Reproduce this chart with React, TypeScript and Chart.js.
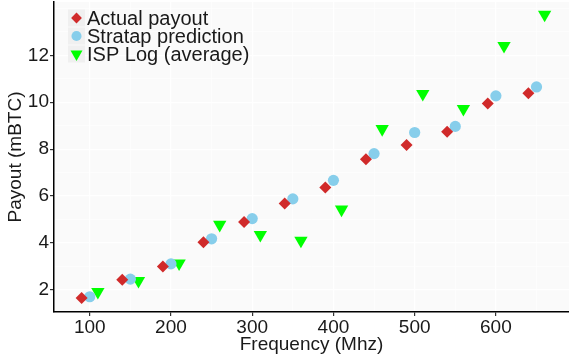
import React, { useEffect, useRef } from 'react';
import { Chart, registerables } from 'chart.js';
import { drawPoint } from 'chart.js/helpers';

Chart.register(...registerables);

// ---- Data ----
const seriesLabels = ['Actual payout', 'Stratap prediction', 'ISP Log (average)'];

const actualFreq = [90, 140, 190, 240, 290, 340, 390, 440, 490, 540, 590, 640];
const actualPayout = [1.66, 2.43, 3.0, 4.03, 4.9, 5.68, 6.36, 7.57, 8.18, 8.74, 9.94, 10.38];

const stratapFreq = [100, 150, 200, 250, 300, 350, 400, 450, 500, 550, 600, 650];
const stratapPayout = [1.71, 2.46, 3.11, 4.18, 5.04, 5.88, 6.67, 7.81, 8.71, 8.97, 10.27, 10.65];

const ispFreq = [110, 160, 210, 260, 310, 360, 410, 460, 510, 560, 610, 660];
const ispPayout = [1.92, 2.39, 3.13, 4.78, 4.35, 4.1, 5.43, 8.86, 10.36, 9.72, 12.4, 13.73];

const xTickLabels = [100, 200, 300, 400, 500, 600];
const yTickLabels = [2, 4, 6, 8, 10, 12];

const FONT = "'Liberation Sans', Arial, Helvetica, sans-serif";
const TEXT = '#1a1a1a';

const toPoints = (xs: number[], ys: number[]) => xs.map((x, i) => ({ x, y: ys[i] }));

const panelPlugin = {
  id: 'panel',
  beforeDraw(chart: any) {
    const { ctx, chartArea } = chart;
    ctx.save();
    ctx.fillStyle = '#FAFAFA';
    ctx.fillRect(chartArea.left, chartArea.top, chartArea.right - chartArea.left, chartArea.bottom - chartArea.top);
    ctx.restore();
  },
};

// legend drawn inside the panel, top-left (ggplot style keys)
const insideLegend = {
  id: 'insideLegend',
  beforeDatasetsDraw(chart: any) {
    const { ctx, chartArea } = chart;
    const keyCx = chartArea.left + 22.5;
    const textX = chartArea.left + 33;
    const firstRow = chartArea.top + 16;
    const rowStep = 18;
    ctx.save();
    chart.data.datasets.forEach((ds: any, i: number) => {
      const cy = firstRow + i * rowStep;
      ctx.fillStyle = '#F0F0F0';
      ctx.fillRect(keyCx - 8.5, cy - 8.5, 17, 17);
      ctx.fillStyle = ds.backgroundColor;
      ctx.strokeStyle = ds.borderColor;
      drawPoint(
        ctx,
        {
          pointStyle: ds.pointStyle,
          rotation: ds.pointRotation || 0,
          radius: ds.pointRadius * 0.9,
          borderWidth: 0,
        } as any,
        keyCx,
        cy
      );
      ctx.fillStyle = TEXT;
      ctx.font = `20px ${FONT}`;
      ctx.textAlign = 'left';
      ctx.textBaseline = 'middle';
      ctx.fillText(ds.label, textX, cy + 1);
    });
    ctx.restore();
  },
};

export default function App() {
  const ref = useRef<HTMLCanvasElement | null>(null);

  useEffect(() => {
    if (!ref.current) return;
    Chart.defaults.font.family = FONT;
    const chart = new Chart(ref.current, {
      type: 'scatter',
      data: {
        datasets: [
          {
            label: seriesLabels[0],
            data: toPoints(actualFreq, actualPayout),
            pointStyle: 'rectRot',
            pointRadius: 6,
            pointBorderWidth: 0,
            backgroundColor: '#D02A2A',
            borderColor: '#D02A2A',
            borderWidth: 0,
          },
          {
            label: seriesLabels[1],
            data: toPoints(stratapFreq, stratapPayout),
            pointStyle: 'circle',
            pointRadius: 5.6,
            pointBorderWidth: 0,
            backgroundColor: '#87CEEB',
            borderColor: '#87CEEB',
            borderWidth: 0,
          },
          {
            label: seriesLabels[2],
            data: toPoints(ispFreq, ispPayout),
            pointStyle: 'triangle',
            pointRotation: 180,
            pointRadius: 7.7,
            pointBorderWidth: 0,
            backgroundColor: '#00FF00',
            borderColor: '#00FF00',
            borderWidth: 0,
          },
        ],
      },
      options: {
        animation: false,
        responsive: false,
        layout: { autoPadding: false, padding: { top: 2, right: 0, bottom: 0, left: 0 } },
        plugins: {
          tooltip: { enabled: false },
          legend: { display: false },
        },
        scales: {
          x: {
            type: 'linear',
            position: 'bottom',
            min: 56,
            max: 690,
            afterFit: (s: any) => {
              s.height = 49;
              s.paddingLeft = 0;
              s.paddingRight = 0;
            },
            ticks: {
              stepSize: 50,
              includeBounds: false,
              autoSkip: false,
              maxRotation: 0,
              padding: 0,
              color: TEXT,
              font: { size: 19, family: FONT },
              callback: (v: any) => (xTickLabels.includes(Number(v)) ? String(v) : ''),
            },
            grid: {
              color: '#FFFFFF',
              lineWidth: (c: any) => (xTickLabels.includes(c.tick?.value) ? 1.2 : 0.6),
              tickColor: (c: any) => (xTickLabels.includes(c.tick?.value) ? '#333333' : 'rgba(0,0,0,0)'),
              tickLength: 4,
            },
            border: { display: true, color: '#000000', width: 1.5 },
            title: {
              display: true,
              text: 'Frequency (Mhz)',
              color: TEXT,
              font: { size: 19, family: FONT },
              padding: { top: 0, bottom: 5 },
            },
          },
          y: {
            type: 'linear',
            min: 1.06,
            max: 14.27,
            afterFit: (s: any) => {
              s.width = 54;
              s.paddingTop = 0;
              s.paddingBottom = 0;
            },
            ticks: {
              stepSize: 1,
              includeBounds: false,
              autoSkip: false,
              padding: 1,
              color: TEXT,
              font: { size: 19, family: FONT },
              callback: (v: any) => (yTickLabels.includes(Number(v)) ? String(v) : ''),
            },
            grid: {
              color: '#FFFFFF',
              lineWidth: (c: any) => (yTickLabels.includes(c.tick?.value) ? 1.2 : 0.6),
              tickColor: (c: any) => (yTickLabels.includes(c.tick?.value) ? '#333333' : 'rgba(0,0,0,0)'),
              tickLength: 4,
            },
            border: { display: true, color: '#000000', width: 1.5 },
            title: {
              display: true,
              text: 'Payout (mBTC)',
              color: TEXT,
              font: { size: 19, family: FONT },
              padding: { top: 4, bottom: 0 },
            },
          },
        },
      },
      plugins: [panelPlugin, insideLegend],
    } as any);
    return () => chart.destroy();
  }, []);

  return (
    <div style={{ position: 'fixed', left: 0, top: 0, width: 569, height: 361 }}>
      <canvas ref={ref} width={569} height={361} style={{ display: 'block' }} />
    </div>
  );
}
